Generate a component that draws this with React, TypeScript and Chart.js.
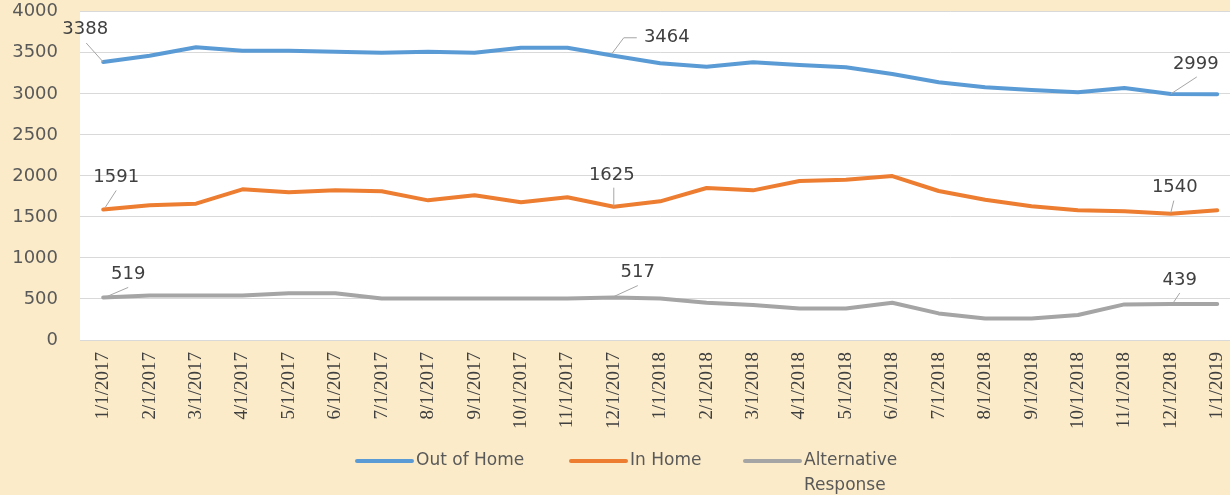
import React, { useEffect, useRef } from "react";
import { Chart, registerables } from "chart.js";

Chart.register(...registerables);

const categories = [
  "1/1/2017", "2/1/2017", "3/1/2017", "4/1/2017", "5/1/2017", "6/1/2017",
  "7/1/2017", "8/1/2017", "9/1/2017", "10/1/2017", "11/1/2017", "12/1/2017",
  "1/1/2018", "2/1/2018", "3/1/2018", "4/1/2018", "5/1/2018", "6/1/2018",
  "7/1/2018", "8/1/2018", "9/1/2018", "10/1/2018", "11/1/2018", "12/1/2018",
  "1/1/2019",
];

const outOfHome = [3388, 3465, 3567, 3526, 3526, 3514, 3502, 3514, 3502, 3563, 3563, 3464, 3372, 3331, 3384, 3352, 3323, 3242, 3141, 3080, 3048, 3019, 3072, 2999, 2995];
const inHome = [1591, 1641, 1662, 1836, 1800, 1824, 1812, 1702, 1763, 1678, 1739, 1625, 1690, 1852, 1824, 1937, 1954, 1998, 1816, 1710, 1629, 1581, 1568, 1540, 1581];
const alternativeResponse = [519, 543, 543, 543, 571, 571, 507, 507, 507, 507, 507, 517, 507, 454, 426, 385, 385, 454, 324, 263, 263, 304, 434, 439, 438];

const seriesNames = ["Out of Home", "In Home", "Alternative Response"];
const seriesColors = ["#5B9BD5", "#ED7D31", "#A5A5A5"];
const labeledIndices = [0, 11, 23];
const yTicks = { min: 0, max: 4000, step: 500 };

// label layout: per dataset, per labeled index: text offset and leader points (relative to the point)
const labelLayout: { t: [number, number]; l: [number, number][] }[][] = [
  [
    { t: [-18, -33], l: [[0, 0], [-17, -19]] },
    { t: [53, -18], l: [[-2, -2], [10, -18], [23, -18]] },
    { t: [25, -30], l: [[0, 0], [26, -17]] },
  ],
  [
    { t: [13, -32], l: [[2, -2], [13, -19]] },
    { t: [-2, -31], l: [[0, 0], [0, -19]] },
    { t: [4, -26], l: [[0, -1], [3, -13]] },
  ],
  [
    { t: [25, -23], l: [[4, -1], [25, -10]] },
    { t: [24, -25], l: [[0, -1], [24, -12]] },
    { t: [9, -24], l: [[3, -2], [9, -11]] },
  ],
];

const plotBgPlugin = {
  id: "plotBg",
  beforeDraw(chart: any) {
    const { ctx, chartArea } = chart;
    ctx.save();
    ctx.fillStyle = "#ffffff";
    ctx.fillRect(chartArea.left, chartArea.top, chartArea.right - chartArea.left + 30, chartArea.bottom - chartArea.top);
    ctx.restore();
  },
};

const dataLabelPlugin = {
  id: "leaderLabels",
  afterDatasetsDraw(chart: any) {
    const { ctx } = chart;
    ctx.save();
    chart.data.datasets.forEach((ds: any, di: number) => {
      const meta = chart.getDatasetMeta(di);
      labeledIndices.forEach((idx, k) => {
        const pt = meta.data[idx];
        if (!pt) return;
        const lay = labelLayout[di][k];
        const px = pt.x;
        const py = pt.y;
        ctx.strokeStyle = "#a6a6a6";
        ctx.lineWidth = 1;
        ctx.beginPath();
        lay.l.forEach((p, i) => {
          if (i === 0) ctx.moveTo(px + p[0], py + p[1]);
          else ctx.lineTo(px + p[0], py + p[1]);
        });
        ctx.stroke();
        ctx.fillStyle = "#404040";
        ctx.font = '18px "DejaVu Sans"';
        ctx.textAlign = "center";
        ctx.textBaseline = "middle";
        ctx.fillText(String(ds.data[idx]), px + lay.t[0], py + lay.t[1]);
      });
    });
    ctx.restore();
  },
};

const legendPlugin = {
  id: "customLegend",
  afterDraw(chart: any) {
    const { ctx } = chart;
    const itemX = [357, 571, 745];
    const y = 461;
    const lineLen = 55;
    const maxTextW = 115;
    ctx.save();
    ctx.font = '17px "DejaVu Sans"';
    ctx.textBaseline = "middle";
    ctx.textAlign = "left";
    chart.data.datasets.forEach((ds: any, i: number) => {
      const x = itemX[i];
      ctx.strokeStyle = ds.borderColor;
      ctx.lineWidth = 4;
      ctx.lineCap = "round";
      ctx.beginPath();
      ctx.moveTo(x, y);
      ctx.lineTo(x + lineLen, y);
      ctx.stroke();
      const words = String(ds.label).split(" ");
      const lines: string[] = [];
      let cur = "";
      words.forEach((w) => {
        const test = cur ? cur + " " + w : w;
        if (cur && ctx.measureText(test).width > maxTextW) {
          lines.push(cur);
          cur = w;
        } else cur = test;
      });
      if (cur) lines.push(cur);
      ctx.fillStyle = "#595959";
      lines.forEach((ln, li) => ctx.fillText(ln, x + lineLen + 4, y + li * 25));
    });
    ctx.restore();
  },
};

export default function App() {
  const ref = useRef<HTMLCanvasElement | null>(null);
  useEffect(() => {
    if (!ref.current) return;
    const chart = new Chart(ref.current, {
      type: "line",
      data: {
        labels: categories,
        datasets: [outOfHome, inHome, alternativeResponse].map((d, i) => ({
          label: seriesNames[i],
          data: d,
          borderColor: seriesColors[i],
          backgroundColor: seriesColors[i],
          borderWidth: 4,
          pointRadius: 0,
          tension: 0,
          borderCapStyle: "round" as const,
          borderJoinStyle: "round" as const,
        })),
      },
      options: {
        responsive: false,
        animation: false,
        layout: { padding: { top: 0, right: 0, left: 0, bottom: 0 } },
        plugins: { legend: { display: false }, tooltip: { enabled: false } },
        scales: {
          x: {
            type: "category",
            offset: true,
            grid: { display: false, drawTicks: false },
            border: { display: true, color: "#d9d9d9" },
            ticks: {
              autoSkip: false,
              minRotation: 90,
              maxRotation: 90,
              padding: 12,
              color: "#404040",
              font: { family: '"Liberation Serif", "DejaVu Serif", serif', size: 19 },
            },
            afterFit: (s: any) => {
              s.height = 155;
            },
          },
          y: {
            min: yTicks.min,
            max: yTicks.max,
            ticks: {
              stepSize: yTicks.step,
              padding: 1,
              color: "#595959",
              font: { family: '"DejaVu Sans"', size: 18 },
              callback: (v: any) => String(v),
            },
            grid: { color: "#d9d9d9", drawTicks: true, tickLength: 21, tickColor: "rgba(0,0,0,0)" },
            border: { display: false },
            afterFit: (s: any) => {
              s.width = 80;
            },
          },
        },
      },
      plugins: [plotBgPlugin, dataLabelPlugin, legendPlugin],
    });
    return () => chart.destroy();
  }, []);

  return (
    <div
      style={{
        position: "absolute",
        left: 0,
        top: 0,
        width: 1230,
        height: 495,
        overflow: "hidden",
        background: "#fbebc8",
      }}
    >
      <canvas ref={ref} width={1252} height={495} style={{ display: "block", width: 1252, height: 495 }} />
    </div>
  );
}
